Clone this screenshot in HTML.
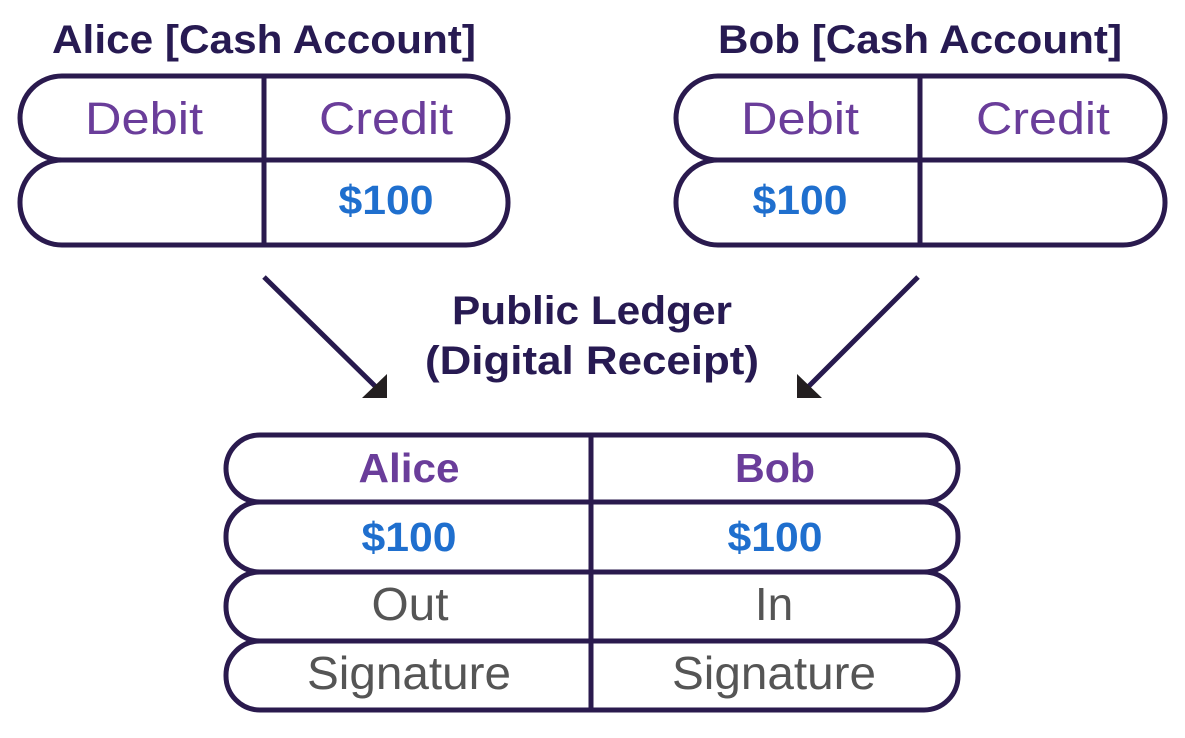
<!DOCTYPE html>
<html><head><meta charset="utf-8"><style>
html,body{margin:0;padding:0;background:#fff;}
svg{display:block;}
text{font-family:"Liberation Sans",sans-serif;text-anchor:middle;}
.t{font-weight:bold;fill:#271a52;font-size:40px;}
.h{fill:#6a3d9a;font-size:45px;}
.hb{fill:#6a3d9a;font-size:41px;font-weight:bold;}
.m{fill:#1f6fce;font-size:41px;font-weight:bold;}
.g{fill:#555;font-size:46px;}
.r{fill:none;stroke:#2a1a4e;stroke-width:5;}
</style></head><body>
<svg width="1185" height="738" viewBox="0 0 1185 738">
<text class="t" x="264" y="53" textLength="424" lengthAdjust="spacingAndGlyphs">Alice [Cash Account]</text>
<text class="t" x="920" y="53" textLength="404" lengthAdjust="spacingAndGlyphs">Bob [Cash Account]</text>
<!-- Alice table -->
<rect class="r" x="20" y="76" width="488" height="84" rx="42"/>
<rect class="r" x="20" y="160" width="488" height="85" rx="42"/>
<line class="r" x1="264" y1="76" x2="264" y2="245"/>
<text class="h" x="144" y="134" textLength="118" lengthAdjust="spacingAndGlyphs">Debit</text>
<text class="h" x="386" y="134" textLength="134" lengthAdjust="spacingAndGlyphs">Credit</text>
<text class="m" x="386" y="214" textLength="95" lengthAdjust="spacingAndGlyphs">$100</text>
<!-- Bob table -->
<rect class="r" x="676" y="76" width="489" height="84" rx="42"/>
<rect class="r" x="676" y="160" width="489" height="85" rx="42"/>
<line class="r" x1="920" y1="76" x2="920" y2="245"/>
<text class="h" x="800" y="134" textLength="118" lengthAdjust="spacingAndGlyphs">Debit</text>
<text class="h" x="1043" y="134" textLength="134" lengthAdjust="spacingAndGlyphs">Credit</text>
<text class="m" x="800" y="214" textLength="95" lengthAdjust="spacingAndGlyphs">$100</text>
<!-- arrows -->
<line x1="264" y1="277" x2="377" y2="388" stroke="#271a4e" stroke-width="5"/>
<polygon points="362,398 387,398 387,374" fill="#231f20"/>
<line x1="918" y1="277" x2="807" y2="388" stroke="#271a4e" stroke-width="5"/>
<polygon points="797,374 797,398 822,398" fill="#231f20"/>
<text class="t" x="592" y="324" textLength="280" lengthAdjust="spacingAndGlyphs">Public Ledger</text>
<text class="t" x="592" y="374" textLength="334" lengthAdjust="spacingAndGlyphs">(Digital Receipt)</text>
<!-- ledger -->
<rect class="r" x="226" y="435" width="732" height="67" rx="34"/>
<rect class="r" x="226" y="502" width="732" height="70" rx="34"/>
<rect class="r" x="226" y="572" width="732" height="69" rx="34"/>
<rect class="r" x="226" y="641" width="732" height="69" rx="34"/>
<line class="r" x1="591" y1="435" x2="591" y2="710"/>
<text class="hb" x="409" y="482" textLength="101" lengthAdjust="spacingAndGlyphs">Alice</text>
<text class="hb" x="775" y="482" textLength="80" lengthAdjust="spacingAndGlyphs">Bob</text>
<text class="m" x="409" y="551" textLength="95" lengthAdjust="spacingAndGlyphs">$100</text>
<text class="m" x="775" y="551" textLength="95" lengthAdjust="spacingAndGlyphs">$100</text>
<text class="g" x="410" y="620" textLength="77" lengthAdjust="spacingAndGlyphs">Out</text>
<text class="g" x="774" y="620">In</text>
<text class="g" x="409" y="689" textLength="204" lengthAdjust="spacingAndGlyphs">Signature</text>
<text class="g" x="774" y="689" textLength="204" lengthAdjust="spacingAndGlyphs">Signature</text>
</svg>
</body></html>
